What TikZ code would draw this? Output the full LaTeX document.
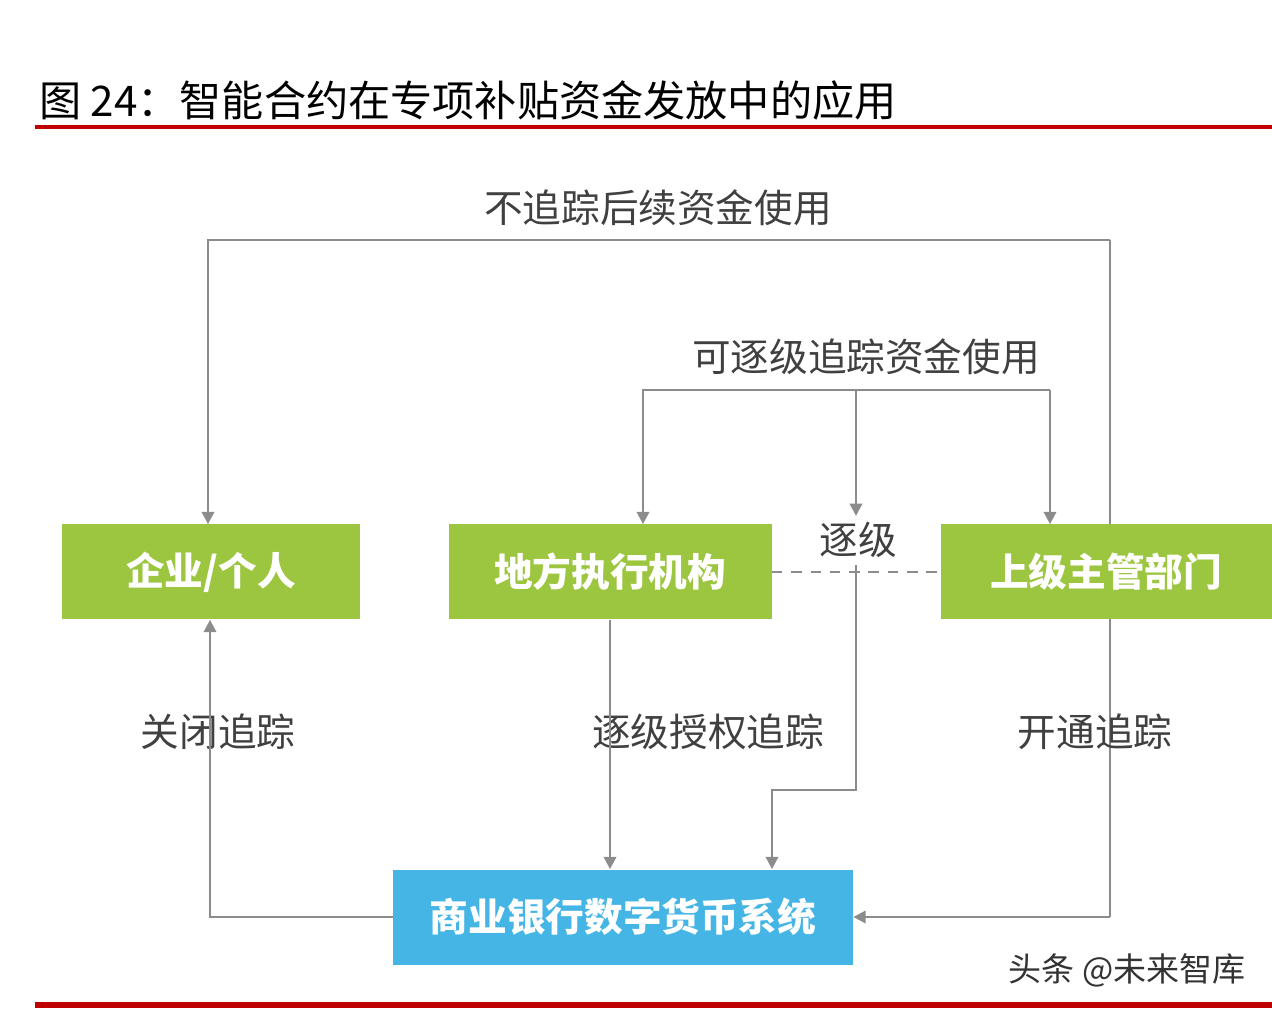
\documentclass[tikz,border=0pt]{standalone}
\usepackage{fontspec}
\setmainfont{Noto Sans CJK SC}
\usetikzlibrary{arrows.meta}
\definecolor{boxgreen}{HTML}{9CC63F}
\definecolor{boxblue}{HTML}{45B5E6}
\definecolor{linegray}{HTML}{8C8C8C}
\definecolor{titlered}{HTML}{C00000}

\begin{document}
\begin{tikzpicture}[x=0.02cm,y=-0.02cm,
    block_green/.style ={rectangle, draw=none, fill=boxgreen, text=white,
      font=\fontsize{22}{24}\selectfont\bfseries, minimum height=95*0.02cm},
    block_blue/.style ={rectangle, draw=none, fill=boxblue, text=white,
      font=\fontsize{22}{24}\selectfont\bfseries, minimum height=95*0.02cm,
      minimum width=460*0.02cm},
    label_text/.style ={font=\fontsize{22}{24}\selectfont, text=black!75},
    line/.style ={draw=linegray, line width=1.5pt, -{Triangle[length=7pt,width=7pt]}},
    plain/.style ={draw=linegray, line width=1.5pt}]
    \useasboundingbox (0,0) rectangle (1272,1016);
    % title and rules
    \node[anchor=west, font=\fontsize{24}{26}\selectfont] (title) at (33,100)
      {图 24：智能合约在专项补贴资金发放中的应用};
    \draw[titlered, line width=2pt] (35,127) -- (1272,127);
    \draw[titlered, line width=3pt] (35,1005) -- (1272,1005);
    \node[font=\fontsize{18.8}{20}\selectfont, text=black!80] (mark) at (1127,970) {头条 @未来智库};
    % long loop behind the right box
    \coordinate (topright) at (1110,240);
    \coordinate (topleft) at (208,240);
    \coordinate (bankright) at (1110,917);
    \coordinate (bankleft) at (210,917);
    \path[plain] (topright) -- (bankright);
    % boxes
    \node [block_green, minimum width=298*0.02cm] (firm) at (211,572) {企业/个人};
    \node [block_green, minimum width=323*0.02cm] (local) at (610,572) {地方执行机构};
    \node [block_green, minimum width=331*0.02cm] (upper) at (1106,572) {上级主管部门};
    \node [block_blue] (bank) at (623,917) {商业银行数字货币系统};
    % labels
    \node[label_text] (notrack) at (658,208) {不追踪后续资金使用};
    \node[label_text] (cantrack) at (866,357) {可逐级追踪资金使用};
    \node[label_text] (level) at (858,540) {逐级};
    \node[label_text] (auth) at (708,732) {逐级授权追踪};
    \node[label_text] (close) at (218,732) {关闭追踪};
    \node[label_text] (open) at (1095,732) {开通追踪};
    % connectors
    \coordinate (splitL) at (643,390);
    \coordinate (splitM) at (856,390);
    \coordinate (splitR) at (1050,390);
    \coordinate (midA) at (856,790);
    \coordinate (midB) at (772,790);
    \begin{scope}[every path/.style=line]
      \path (topright) -- (topleft) -- (firm.north -| topleft);
      \path (splitR) -- (splitL) -- (local.north -| splitL);
      \path (splitM) -- (level.north -| splitM);
      \path (splitR) -- (upper.north -| splitR);
      \path (local.south) -- (bank.north -| local.south);
      \path (856,565) -- (midA) -- (midB) -- (bank.north -| midB);
      \path (bankright) -- (bank.east);
      \path (bank.west) -- (bankleft) -- (firm.south -| bankleft);
    \end{scope}
    \draw[linegray, line width=1.5pt, dash pattern=on 6pt off 5pt] (local.east) -- (upper.west);
\end{tikzpicture}
\end{document}
